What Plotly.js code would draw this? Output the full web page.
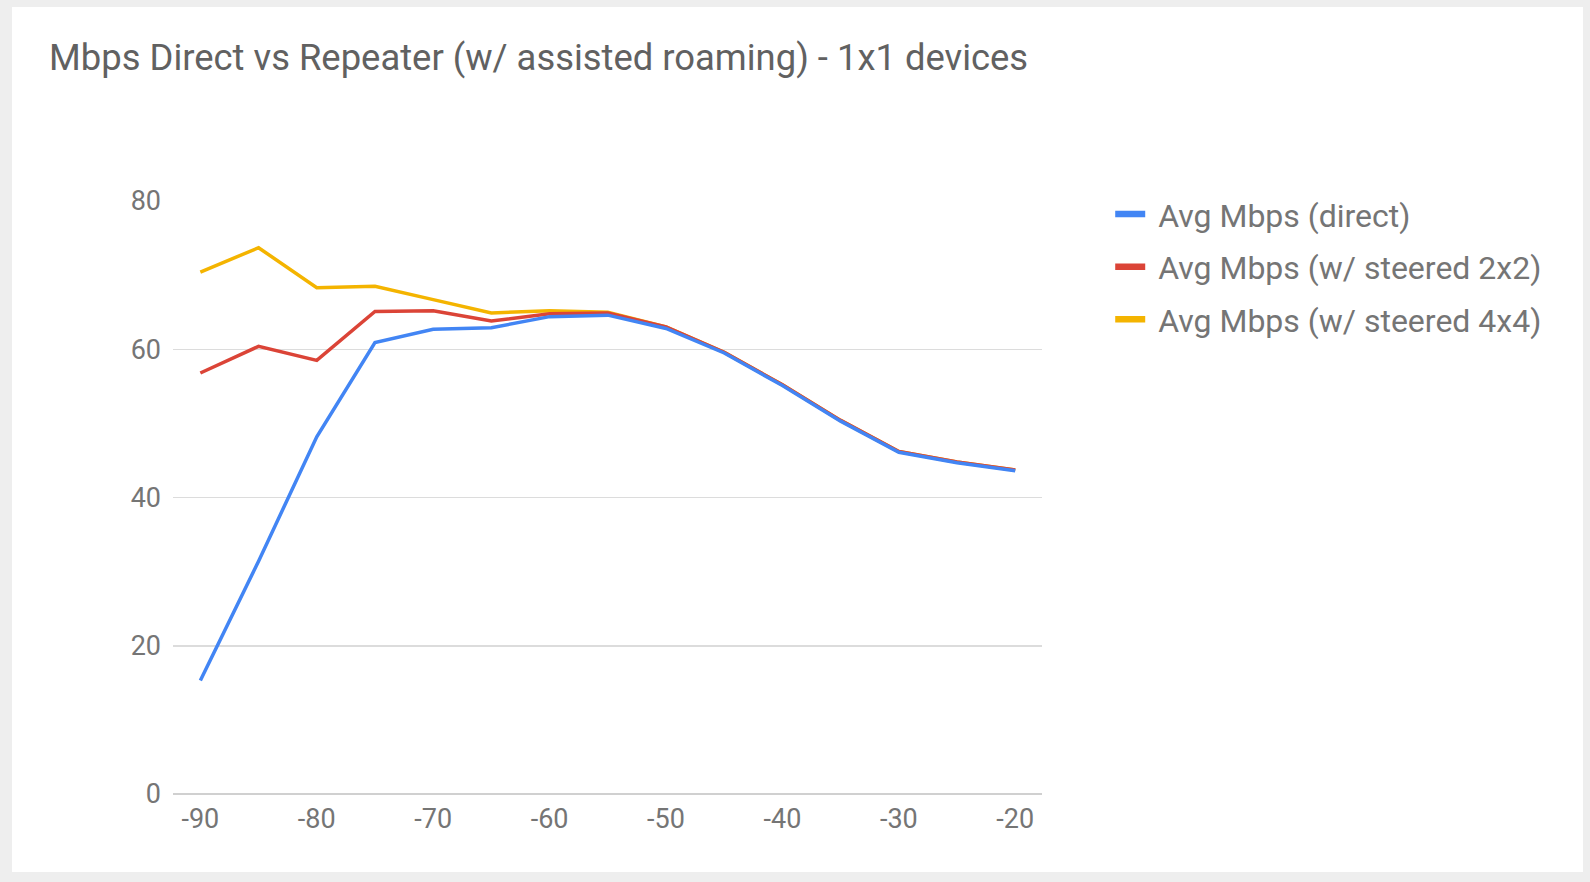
<!DOCTYPE html>
<html>
<head>
<meta charset="utf-8">
<script src="https://cdn.plot.ly/plotly-3.0.1.min.js"></script>
<style>
  html, body { margin: 0; padding: 0; background: #eeeeee; }
  #card {
    position: absolute; left: 12px; top: 7px;
    width: 1571px; height: 865px; background: #fff;
  }
</style>
</head>
<body>
<div id="card"></div>
<script>
const SIGNAL = [-90, -85, -80, -75, -70, -65, -60, -55, -50, -45, -40, -35, -30, -25, -20]
const DIRECT = [15.3, 31.4, 48.2, 60.9, 62.7, 62.9, 64.4, 64.6, 62.8, 59.5, 55.1, 50.3, 46.1, 44.7, 43.6]
const STEERED_2X2 = [56.8, 60.4, 58.5, 65.1, 65.2, 63.8, 64.8, 64.9, 63.0, 59.6, 55.2, 50.4, 46.2, 44.8, 43.7]
const STEERED_4X4 = [70.4, 73.7, 68.3, 68.5, 66.7, 64.9, 65.2, 65.0, 63.0, 59.6, 55.2, 50.4, 46.2, 44.8, 43.7]
const SERIES_NAMES = ['Avg Mbps (direct)', 'Avg Mbps (w/ steered 2x2)', 'Avg Mbps (w/ steered 4x4)']
const X_TICKS = [-90, -80, -70, -60, -50, -40, -30, -20]
const X_TICK_LABELS = ['-90', '-80', '-70', '-60', '-50', '-40', '-30', '-20']
const COLORS = ['#4285f4', '#db4437', '#f4b400']

function line(y, i) {
  return {
    x: SIGNAL,
    y: y,
    name: SERIES_NAMES[i],
    showlegend: false,
    type: 'scatter',
    mode: 'lines',
    line: { color: COLORS[i], width: 3.5 },
    hoverinfo: 'skip'
  }
}

// legend-only entries so the key gets a thicker swatch than the plotted lines
function key(i) {
  return {
    x: [null],
    y: [null],
    name: '\u00a0' + SERIES_NAMES[i],
    legendgroup: 'g' + i,
    legendrank: i + 1,
    type: 'scatter',
    mode: 'lines',
    line: { color: COLORS[i], width: 6.5 },
    hoverinfo: 'skip'
  }
}

// first series is drawn on top, like the original
let data = [line(STEERED_4X4, 2), line(STEERED_2X2, 1), line(DIRECT, 0), key(0), key(1), key(2)]

let layout = {
  width: 1571,
  height: 865,
  paper_bgcolor: '#fff',
  plot_bgcolor: '#fff',
  font: { family: 'Roboto, sans-serif', color: '#757575' },
  title: {
    text: 'Mbps Direct vs Repeater (w/ assisted roaming) - 1x1 devices',
    font: { size: 36.4, color: '#616161' },
    xref: 'container', yref: 'container',
    x: 0.0236, xanchor: 'left',
    y: 0.9415, yanchor: 'middle'
  },
  showlegend: true,
  legend: {
    x: 1.0785, xanchor: 'left',
    y: 1.024, yanchor: 'top',
    itemwidth: 30,
    font: { size: 32, color: '#757575' },
    tracegroupgap: 8,
    bgcolor: 'rgba(0,0,0,0)'
  },
  xaxis: {
    range: [-92.35, -17.7],
    tickvals: X_TICKS,
    ticktext: X_TICK_LABELS,
    showgrid: false,
    zeroline: false,
    showline: false,
    ticks: '',
    ticklabelstandoff: 6,
    tickfont: { size: 27, color: '#757575' },
    fixedrange: true
  },
  yaxis: {
    range: [0, 80],
    tick0: 0,
    dtick: 20,
    showgrid: true,
    gridcolor: '#dcdcdc',
    gridwidth: 1.5,
    zeroline: true,
    zerolinecolor: '#d0d0d0',
    zerolinewidth: 1.5,
    showline: false,
    ticks: '',
    ticklabelstandoff: 11,
    tickfont: { size: 27, color: '#757575' },
    fixedrange: true
  },
  margin: { l: 161, r: 541, t: 194, b: 78 }
}

let config = { displayModeBar: false, staticPlot: true }

Plotly.newPlot('card', data, layout, config)
</script>
</body>
</html>
